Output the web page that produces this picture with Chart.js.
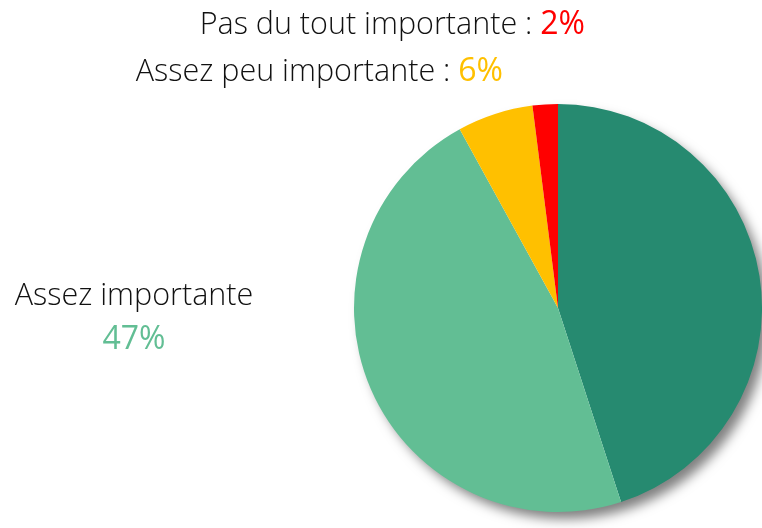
<!DOCTYPE html>
<html>
<head>
<meta charset="utf-8">
<script src="https://cdn.jsdelivr.net/npm/chart.js@4"></script>
<style>
  html, body { margin: 0; padding: 0; background: #fff; }
  #wrap { width: 762px; height: 528px; }
</style>
</head>
<body>
<div id="wrap"><canvas id="pie"></canvas></div>
<script>
// data, clockwise from 12 o'clock
const categories = ['Très importante', 'Assez importante', 'Assez peu importante', 'Pas du tout importante'];
const values = [45, 47, 6, 2];
const colors = ['#268A70', '#62BE94', '#FFC000', '#FF0000'];

const FONT = '300 30.5px "Open Sans", sans-serif';
const PCT_FONT = '400 32px "Open Sans", sans-serif';

// soft shadow under the whole pie
const pieShadow = {
    id: 'pieShadow',
    beforeDatasetsDraw(chart) {
        const arc = chart.getDatasetMeta(0).data[0];
        if (!arc) return;
        const ctx = chart.ctx;
        ctx.save();
        ctx.shadowColor = 'rgba(0,0,0,0.5)';
        ctx.shadowBlur = 12;
        ctx.shadowOffsetX = 7;
        ctx.shadowOffsetY = 8;
        ctx.fillStyle = '#fff';
        ctx.beginPath();
        ctx.arc(arc.x, arc.y, arc.outerRadius - 1, 0, Math.PI * 2);
        ctx.fill();
        ctx.restore();
    }
};

// labels written as in the original slide
const sliceLabels = {
    id: 'sliceLabels',
    afterDraw(chart) {
        const ctx = chart.ctx;
        ctx.save();
        ctx.textBaseline = 'alphabetic';

        function rightPair(text, pct, color, right, y) {
            ctx.font = PCT_FONT;
            const w2 = ctx.measureText(pct).width;
            ctx.textAlign = 'right';
            ctx.fillStyle = color;
            ctx.fillText(pct, right, y);
            ctx.font = FONT;
            ctx.fillStyle = '#111';
            ctx.fillText(text + ' : ', right - w2, y);
        }
        rightPair(categories[3], values[3] + '%', colors[3], 585, 34);
        rightPair(categories[2], values[2] + '%', colors[2], 503, 81);

        ctx.textAlign = 'center';
        ctx.font = FONT;
        ctx.fillStyle = '#111';
        ctx.fillText(categories[1], 134, 305);
        ctx.font = PCT_FONT;
        ctx.fillStyle = colors[1];
        ctx.fillText(values[1] + '%', 134, 349);
        ctx.restore();
    }
};

new Chart(document.getElementById('pie'), {
    type: 'pie',
    data: {
        labels: categories,
        datasets: [{
            data: values,
            backgroundColor: colors,
            borderWidth: 0
        }]
    },
    options: {
        responsive: true,
        maintainAspectRatio: false,
        animation: false,
        layout: { padding: { top: 104, bottom: 16, left: 354, right: 0 } },
        plugins: {
            legend: { display: false },
            tooltip: { enabled: false }
        }
    },
    plugins: [pieShadow, sliceLabels]
});
</script>
</body>
</html>
